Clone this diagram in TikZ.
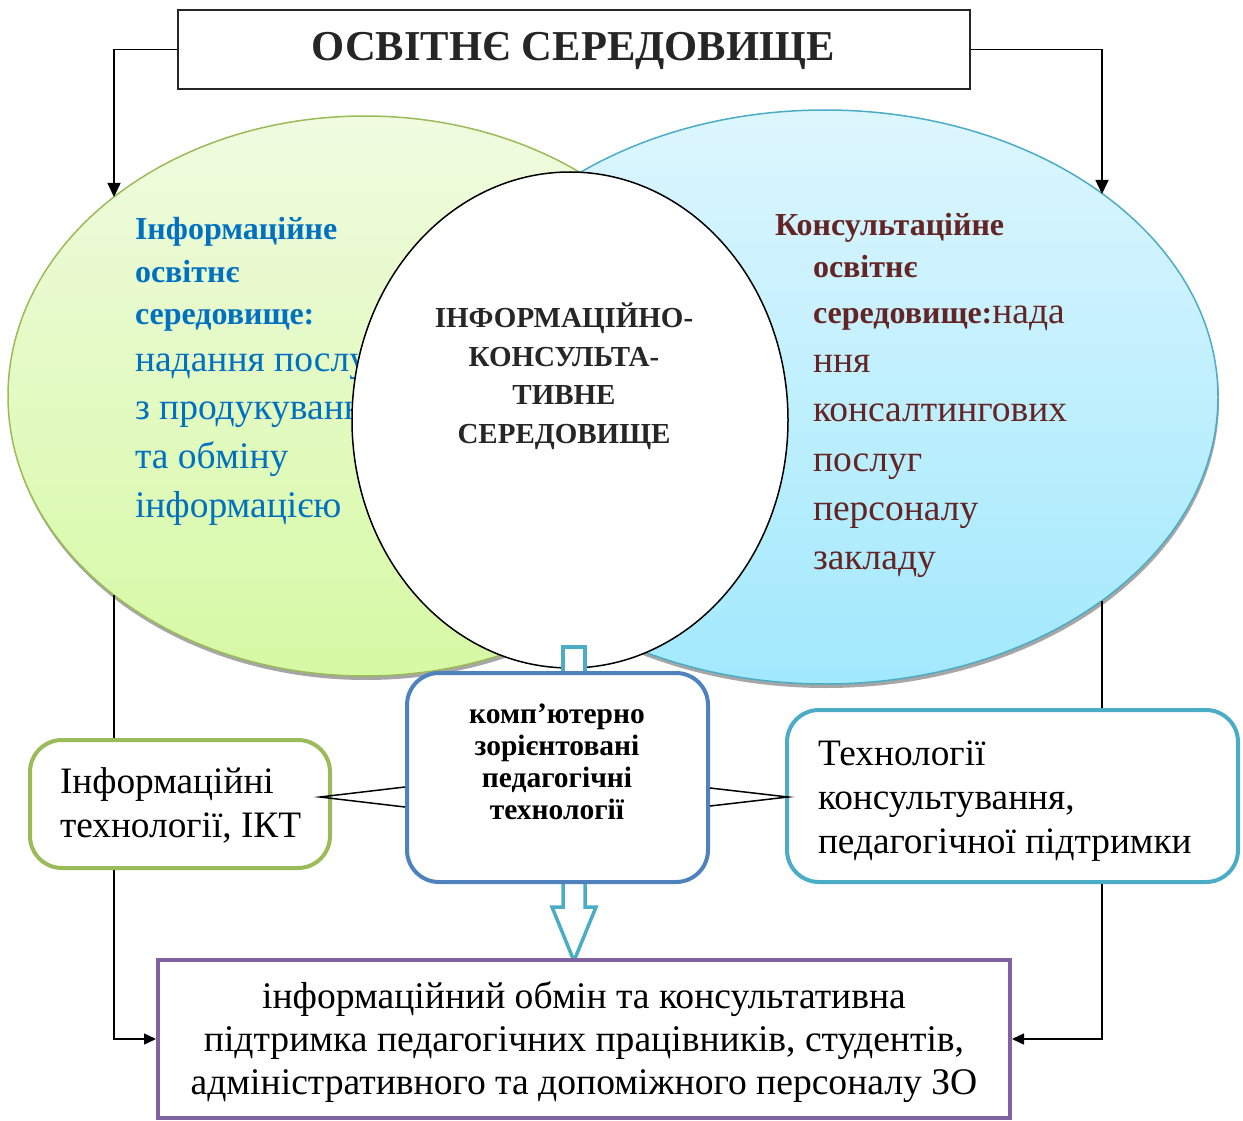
\documentclass[tikz,border=0pt]{standalone}
\usepackage{fontspec}
\setmainfont{Liberation Serif}
\usetikzlibrary{shapes.geometric,arrows.meta,calc}

\definecolor{inkgray}{HTML}{262626}
\definecolor{infoblue}{HTML}{0070C0}
\definecolor{consred}{HTML}{632423}
\definecolor{greenline}{HTML}{9BBB59}
\definecolor{greentop}{HTML}{F0FBE0}
\definecolor{greenbot}{HTML}{D6F9A4}
\definecolor{aqualine}{HTML}{4BACC6}
\definecolor{aquatop}{HTML}{DDF6FE}
\definecolor{aquabot}{HTML}{A2E9FD}
\definecolor{steelblue}{HTML}{4F81BD}
\definecolor{violetline}{HTML}{8064A2}
\definecolor{shadowgray}{HTML}{A6A6A6}

\tikzset{
  txt/.style={inner sep=0pt, outer sep=0pt},
  envshape/.style={ellipse, inner sep=0pt, outer sep=0pt, line width=1.5pt},
  ttl/.style={txt, anchor=base, text=inkgray, font=\fontsize{42.6}{42.6}\selectfont\bfseries},
  ellbold/.style={txt, anchor=base west, font=\fontsize{32}{32}\selectfont\bfseries},
  ellreg/.style={txt, anchor=base west, font=\fontsize{37.5}{37.5}\selectfont},
  coretxt/.style={txt, anchor=base, text=inkgray, font=\fontsize{29}{29}\selectfont\bfseries},
  techtxt/.style={txt, anchor=base, font=\fontsize{29.5}{29.5}\selectfont\bfseries},
  sidetxt/.style={txt, anchor=base west, font=\fontsize{37.3}{37.3}\selectfont},
  outtxt/.style={txt, anchor=base, font=\fontsize{37.6}{37.6}\selectfont},
  roundbox/.style={rounded corners=32pt, line width=4pt, fill=white, inner sep=0pt},
  link/.style={draw=black, line width=1.5pt},
  bigtip/.style={-{Triangle[width=13pt,length=14pt]}},
  smalltip/.style={-{Triangle[width=11pt,length=12pt]}},
  hollow/.style={draw=aqualine, line width=3.5pt, fill=white, line join=miter}
}

\begin{document}
\begin{tikzpicture}[x=1pt,y=-1pt]
\useasboundingbox (0,0) rectangle (1243,1121);

% title frame
\node[draw=inkgray, line width=2pt, minimum width=792pt, minimum height=79pt, inner sep=0pt]
  (title) at (574,49.5) {};
\node[ttl] (titletext) at (573,61) {ОСВІТНЄ СЕРЕДОВИЩЕ};

% shadows of the two environments
\node[envshape, fill=shadowgray, minimum width=714pt, minimum height=560pt] (lshadow) at (366,400) {};
\node[envshape, fill=shadowgray, minimum width=786pt, minimum height=574pt] (rshadow) at (826,401) {};

% informational and consulting environments
\node[envshape, draw=greenline, top color=greentop, bottom color=greenbot,
      minimum width=714pt, minimum height=560pt] (leftenv) at (365,396) {};
\node[envshape, draw=aqualine, top color=aquatop, bottom color=aquabot,
      minimum width=786pt, minimum height=574pt] (rightenv) at (825,397) {};

% text of the informational environment
\begin{scope}[every node/.append style={text=infoblue}]
\node[ellbold] (l1) at (135,239) {Інформаційне};
\node[ellbold] (l2) at (135,282) {освітнє};
\node[ellbold] (l3) at (135,324) {середовище:};
\node[ellreg]  (l4) at (135,371) {надання послуг};
\node[ellreg]  (l5) at (135,419) {з продукуванням};
\node[ellreg]  (l6) at (135,468) {та обміну};
\node[ellreg]  (l7) at (135,517) {інформацією};
\end{scope}

% text of the consulting environment
\begin{scope}[every node/.append style={text=consred}]
\node[ellbold] (r1) at (775,235) {Консультаційне};
\node[ellbold] (r2) at (813,277) {освітнє};
\node[ellbold] (r3) at (813,323) {середовище:{\fontsize{37.5}{37.5}\selectfont\mdseries нада}};
\node[ellreg]  (r4) at (813,372) {ння};
\node[ellreg]  (r5) at (813,421) {консалтингових};
\node[ellreg]  (r6) at (813,471) {послуг};
\node[ellreg]  (r7) at (813,520) {персоналу};
\node[ellreg]  (r8) at (813,569) {закладу};
\end{scope}

% central environment
\node[envshape, draw=black, fill=white, minimum width=436pt, minimum height=496pt] (core) at (570,420) {};
\node[coretxt] (c1) at (564,327) {ІНФОРМАЦІЙНО-};
\node[coretxt] (c2) at (564,366) {КОНСУЛЬТА-};
\node[coretxt] (c3) at (564,404) {ТИВНЕ};
\node[coretxt] (c4) at (564,443) {СЕРЕДОВИЩЕ};

% hollow arrows through the technology block
\draw[hollow] (563,676) -- (563,647) -- (585,647) -- (585,676);
\draw[hollow] (563,878) -- (563,907) -- (552,907) -- (574,961) -- (596,907) -- (585,907) -- (585,878);

% technology blocks
\node[roundbox, draw=steelblue, minimum width=301pt, minimum height=209pt] (tech) at (557.5,777.5) {};
\node[roundbox, draw=greenline, minimum width=300pt, minimum height=128pt] (ict) at (180,804) {};
\node[roundbox, draw=aqualine, minimum width=451pt, minimum height=172pt] (consult) at (1012.5,796) {};

\node[techtxt] (t1) at (557,723) {комп’ютерно};
\node[techtxt] (t2) at (557,755) {зорієнтовані};
\node[techtxt] (t3) at (557,787) {педагогічні};
\node[techtxt] (t4) at (557,819) {технології};

\node[sidetxt] (i1) at (60,793) {Інформаційні};
\node[sidetxt] (i2) at (60,837) {технології, ІКТ};

\node[sidetxt] (k1) at (818,765) {Технології};
\node[sidetxt] (k2) at (818,809) {консультування,};
\node[sidetxt] (k3) at (818,853) {педагогічної підтримки};

% result block
\node[draw=violetline, line width=4pt, fill=white, minimum width=852pt, minimum height=158pt, inner sep=0pt]
  (result) at (584,1039) {};
\node[outtxt] (o1) at (584,1008) {інформаційний обмін та консультативна};
\node[outtxt] (o2) at (584,1051) {підтримка педагогічних працівників, студентів,};
\node[outtxt] (o3) at (584,1094) {адміністративного та допоміжного персоналу ЗО};

% connectors
\coordinate (lhit) at (114,197);
\coordinate (rhit) at (1102,194);
\coordinate (lfoot) at (114,595);
\coordinate (rfoot) at (1102,601);
\coordinate (lfork) at (320,797);
\coordinate (rfork) at (788,797);

\draw[link, bigtip] (title.west) -| (lhit);
\draw[link, bigtip] (title.east) -| (rhit);

\draw[link] (lfoot) -- (lfoot |- ict.north);
\draw[link] (rfoot) -- (rfoot |- consult.north);
\draw[link, smalltip] (lfoot |- ict.south) |- (result.west);
\draw[link, smalltip] (rfoot |- consult.south) |- (result.east);

\draw[link] ($(tech.west |- lfork)+(0,-10)$) -- (lfork) -- ($(tech.west |- lfork)+(0,10)$);
\draw[link] ($(tech.east |- rfork)+(0,-9)$) -- (rfork) -- ($(tech.east |- rfork)+(0,9)$);
\end{tikzpicture}
\end{document}
